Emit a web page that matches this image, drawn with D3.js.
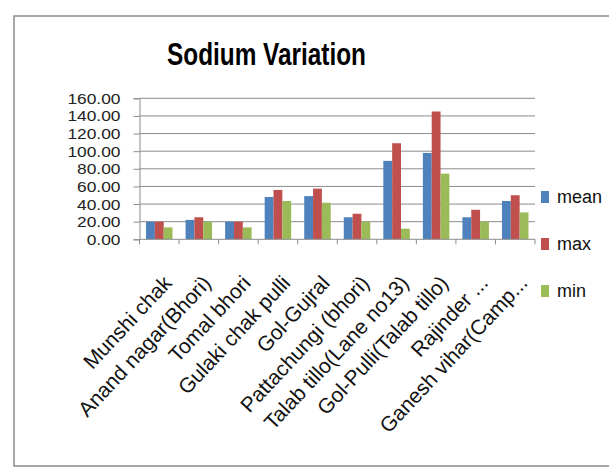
<!DOCTYPE html>
<html>
<head>
<meta charset="utf-8">
<script src="https://cdn.jsdelivr.net/npm/d3@7"></script>
<style>
  html, body { margin: 0; padding: 0; background: #fff; }
  svg { display: block; font-family: "Liberation Sans", Arial, sans-serif; }
</style>
</head>
<body>
<svg id="chart" width="609" height="469"></svg>
<script>
// Sampling sites
const categories = [
  "Munshi chak", "Anand nagar(Bhori)", "Tomal bhori", "Gulaki chak pulli",
  "Gol-Gujral", "Pattachungi (bhori)", "Talab tillo(Lane no13)",
  "Gol-Pulli(Talab tillo)", "Rajinder ...", "Ganesh vihar(Camp..."
];
// Sodium concentration per site
const meanValues = [20, 22, 20, 48, 49, 25, 89, 98, 25, 43.5];
const maxValues  = [20, 25, 20, 56, 57.5, 29, 109, 145, 33.5, 50];
const minValues  = [13.5, 20, 13.5, 43.5, 41.5, 20, 12, 74.5, 20, 30.5];
const seriesNames = ["mean", "max", "min"];
const yTicks = [0, 20, 40, 60, 80, 100, 120, 140, 160];

const seriesValues = [meanValues, maxValues, minValues];
const colors = ["#4F81BD", "#C0504D", "#9BBB59"];

const svg = d3.select("#chart");
const plotLeft = 139.5, plotRight = 535, plotTop = 98.3, plotBottom = 239.3;

// outer chart frame
svg.append("rect")
  .attr("x", 14).attr("y", 16).attr("width", 640).attr("height", 450)
  .attr("fill", "none").attr("stroke", "#8c8c8c").attr("stroke-width", 1.5);

// title
svg.append("text")
  .attr("x", 266.5).attr("y", 65)
  .attr("text-anchor", "middle")
  .attr("font-size", 31).attr("font-weight", "bold")
  .attr("textLength", 199).attr("lengthAdjust", "spacingAndGlyphs")
  .attr("fill", "#000")
  .text("Sodium Variation");

const y = d3.scaleLinear().domain([0, 160]).range([plotBottom, plotTop]);
const x0 = d3.scaleBand().domain(categories).range([plotLeft, plotRight])
  .paddingInner(0.33).paddingOuter(0.165);
const x1 = d3.scaleBand().domain(seriesNames).range([0, x0.bandwidth()]);

// gridlines
svg.append("g").selectAll("line").data(yTicks.filter(d => d > 0)).join("line")
  .attr("x1", plotLeft).attr("x2", plotRight)
  .attr("y1", d => y(d)).attr("y2", d => y(d))
  .attr("stroke", "#8c8c8c").attr("stroke-width", 1);

// y axis
const yAxis = svg.append("g")
  .attr("transform", `translate(${plotLeft},0)`)
  .call(d3.axisLeft(y).tickValues(yTicks).tickSize(6).tickPadding(13)
    .tickFormat(d => d3.format(".2f")(d)));
yAxis.select(".domain").attr("stroke", "#8c8c8c");
yAxis.selectAll(".tick line").attr("stroke", "#8c8c8c");
yAxis.selectAll(".tick text")
  .attr("font-size", 15.5).attr("font-family", "Liberation Sans, Arial, sans-serif")
  .attr("fill", "#222")
  .each(function () {
    const w = this.getComputedTextLength();
    d3.select(this).attr("textLength", w * 1.12).attr("lengthAdjust", "spacingAndGlyphs");
  });

// bars
const groups = svg.append("g").selectAll("g").data(categories).join("g")
  .attr("transform", d => `translate(${x0(d)},0)`);
groups.selectAll("rect")
  .data((d, i) => seriesNames.map((s, k) => ({ s, v: seriesValues[k][i], k })))
  .join("rect")
  .attr("x", d => x1(d.s))
  .attr("width", x1.bandwidth())
  .attr("y", d => y(d.v))
  .attr("height", d => y(0) - y(d.v))
  .attr("fill", d => colors[d.k]);

// x axis with ticks at category boundaries
const step = x0.step();
const xAxisG = svg.append("g");
xAxisG.append("line")
  .attr("x1", plotLeft).attr("x2", plotRight).attr("y1", plotBottom).attr("y2", plotBottom)
  .attr("stroke", "#8c8c8c");
xAxisG.selectAll("line.tk").data(d3.range(categories.length + 1)).join("line")
  .attr("class", "tk")
  .attr("x1", i => plotLeft + i * step).attr("x2", i => plotLeft + i * step)
  .attr("y1", plotBottom).attr("y2", plotBottom + 5)
  .attr("stroke", "#8c8c8c");

// rotated category labels
xAxisG.selectAll("text").data(categories).join("text")
  .attr("transform", d => `translate(${x0(d) + x0.bandwidth() / 2 + 2},${plotBottom + 34}) rotate(-47)`)
  .attr("text-anchor", "end")
  .attr("dy", "0.75em")
  .attr("font-size", 21)
  .attr("fill", "#111")
  .text(d => d);

// legend
const legend = svg.append("g").selectAll("g").data(seriesNames).join("g")
  .attr("transform", (d, i) => `translate(541,${197 + i * 47})`);
legend.append("rect")
  .attr("x", 0).attr("y", -6).attr("width", 8).attr("height", 12)
  .attr("fill", (d, i) => colors[i]);
legend.append("text")
  .attr("x", 16).attr("y", 0).attr("dy", "0.35em")
  .attr("font-size", 18).attr("fill", "#111")
  .text(d => d);
</script>
</body>
</html>
